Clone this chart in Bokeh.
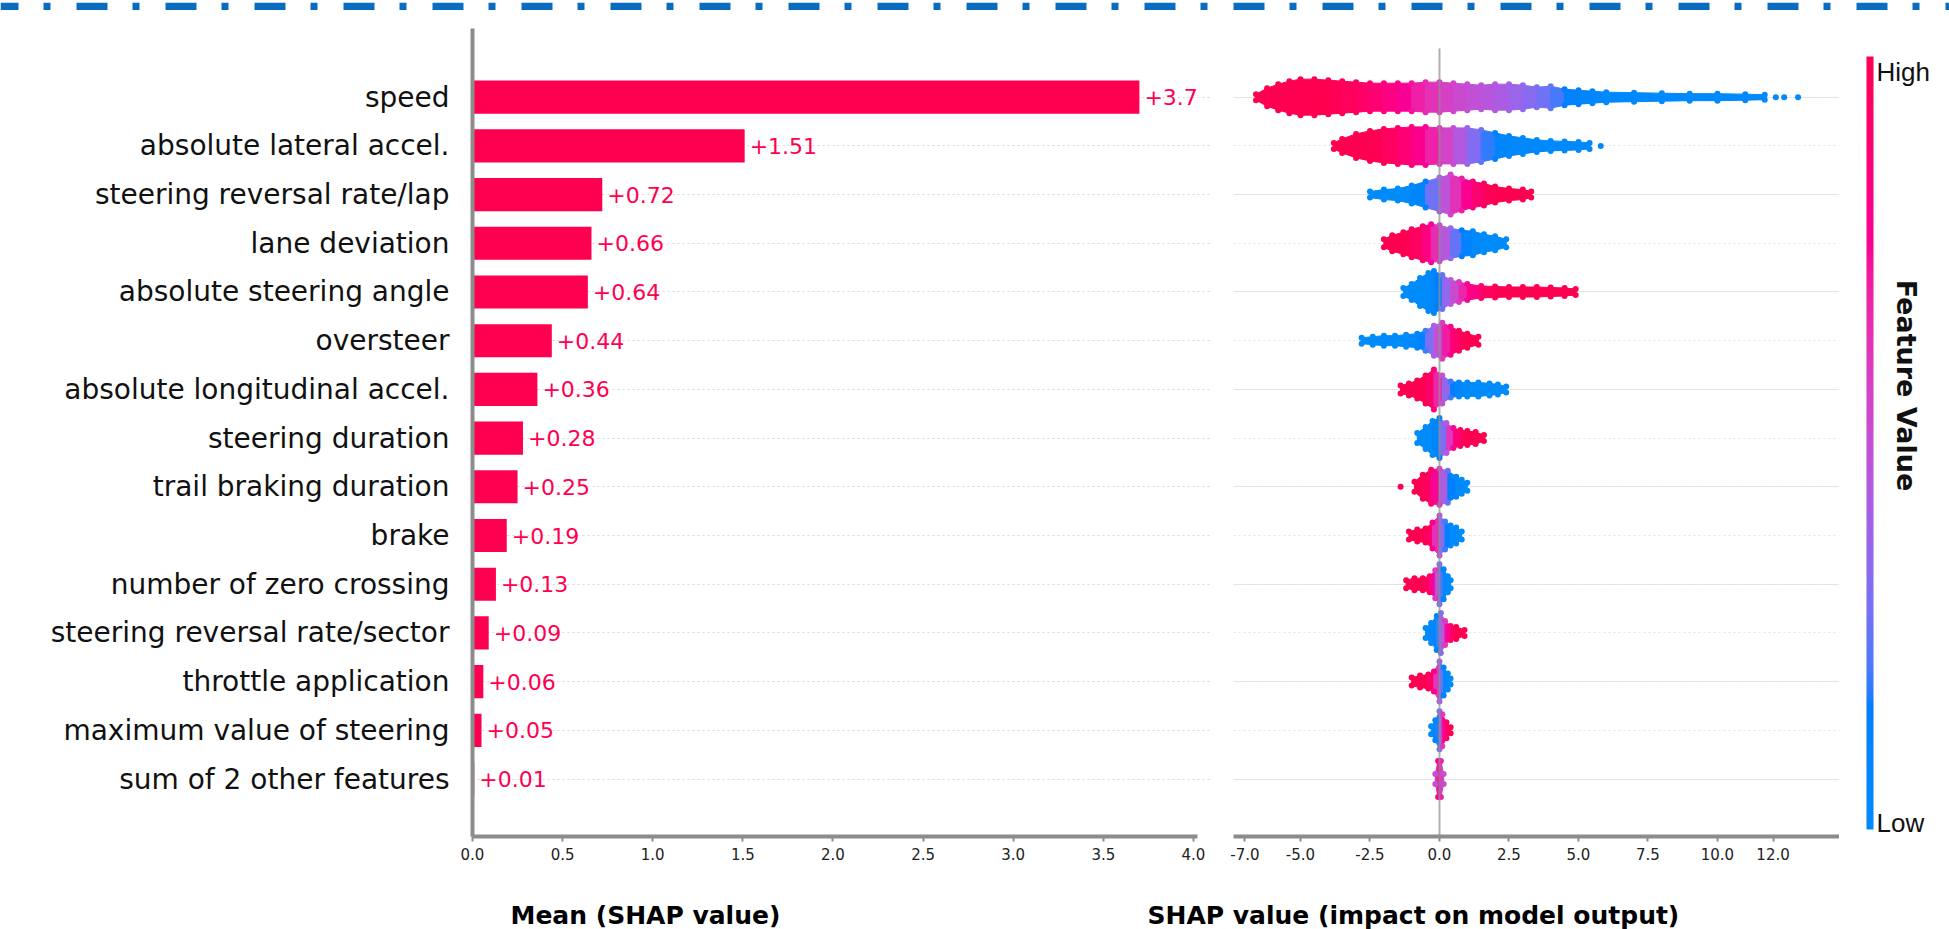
import math
from bokeh.plotting import figure
from bokeh.layouts import column, row
from bokeh.models import (Range1d, FixedTicker, ColumnDataSource, LinearColorMapper,
                          ColorBar, Grid)
from bokeh.core.properties import value
from bokeh.transform import linear_cmap
from bokeh.embed import file_html
from bokeh.resources import INLINE

# ---------------- data ----------------
features = [
    "speed", "absolute lateral accel.", "steering reversal rate/lap", "lane deviation",
    "absolute steering angle", "oversteer", "absolute longitudinal accel.",
    "steering duration", "trail braking duration", "brake", "number of zero crossing",
    "steering reversal rate/sector", "throttle application", "maximum value of steering",
    "sum of 2 other features",
]
mean_shap = [3.7, 1.51, 0.72, 0.66, 0.64, 0.44, 0.36, 0.28, 0.25, 0.19, 0.13, 0.09, 0.06, 0.05, 0.01]
value_labels = ["+3.7", "+1.51", "+0.72", "+0.66", "+0.64", "+0.44", "+0.36", "+0.28",
                "+0.25", "+0.19", "+0.13", "+0.09", "+0.06", "+0.05", "+0.01"]

bar_ticks = [0.0, 0.5, 1.0, 1.5, 2.0, 2.5, 3.0, 3.5, 4.0]
bar_tick_labels = ["0.0", "0.5", "1.0", "1.5", "2.0", "2.5", "3.0", "3.5", "4.0"]
shap_ticks = [-7.0, -5.0, -2.5, 0.0, 2.5, 5.0, 7.5, 10.0, 12.0]
shap_tick_labels = ["-7.0", "-5.0", "-2.5", "0.0", "2.5", "5.0", "7.5", "10.0", "12.0"]

# beeswarm outline per feature: SHAP value, half-thickness of the swarm, feature value (0 low .. 1 high)
swarm_x = [
    [-6.6, -6.2, -5.8, -5.4, -5.0, -4.5, -4.0, -3.5, -3.0, -2.5, -2.0, -1.5, -1.0, -0.5, 0.0, 0.5, 1.0, 1.5,
     2.0, 2.5, 3.0, 3.5, 4.0, 4.5, 5.0, 5.5, 6.0, 7.0, 8.0, 9.0, 10.0, 11.0, 11.7],
    [-3.8, -3.5, -3.0, -2.5, -2.0, -1.5, -1.0, -0.5, 0.0, 0.5, 1.0, 1.5, 2.0, 2.5, 3.0, 3.5, 4.0, 4.5, 5.0, 5.4],
    [-2.5, -2.0, -1.5, -1.0, -0.5, 0.0, 0.4, 0.8, 1.2, 1.6, 2.0, 2.5, 3.0, 3.3],
    [-2.0, -1.7, -1.3, -1.0, -0.6, -0.3, 0.0, 0.4, 0.8, 1.2, 1.6, 2.0, 2.4],
    [-1.3, -1.0, -0.7, -0.4, -0.2, 0.1, 0.4, 0.7, 1.0, 1.5, 2.0, 2.5, 3.0, 3.5, 4.0, 4.5, 4.9],
    [-2.8, -2.4, -2.0, -1.6, -1.2, -0.8, -0.5, -0.2, 0.1, 0.4, 0.7, 1.0, 1.4],
    [-1.4, -1.1, -0.8, -0.5, -0.2, 0.1, 0.4, 0.7, 1.0, 1.4, 1.8, 2.1, 2.4],
    [-0.8, -0.5, -0.25, 0.0, 0.25, 0.5, 0.75, 1.0, 1.3, 1.6],
    [-0.9, -0.6, -0.3, 0.0, 0.3, 0.6, 0.8, 1.0],
    [-1.1, -0.8, -0.5, -0.25, 0.0, 0.2, 0.4, 0.6, 0.8],
    [-1.2, -0.9, -0.6, -0.35, -0.15, 0.0, 0.15, 0.3, 0.4],
    [-0.5, -0.3, -0.1, 0.05, 0.2, 0.4, 0.6, 0.9],
    [-1.0, -0.7, -0.4, -0.2, 0.0, 0.15, 0.3, 0.4],
    [-0.3, -0.15, 0.0, 0.1, 0.25, 0.4],
    [-0.15, -0.05, 0.05, 0.15],
]
swarm_w = [
    [3, 9, 13, 16, 18, 18, 17, 16, 15, 14, 14, 14, 14, 15, 15, 14, 13, 12, 13, 13, 12, 10, 11, 8, 7, 6, 5,
     4.5, 4, 3.5, 3.5, 3, 2.5],
    [3, 7, 12, 15, 17, 18, 19, 19, 18, 18, 18, 16, 13, 10, 8, 6, 5, 4.5, 4, 3],
    [3, 5, 6, 9, 13, 17, 20, 16, 13, 11, 8, 6, 5, 3],
    [4, 8, 11, 14, 17, 19, 18, 15, 13, 12, 9, 7, 4],
    [4, 8, 14, 19, 21, 17, 12, 10, 8, 6, 5.5, 5, 5, 5, 4.5, 4, 3],
    [3, 4, 5, 5, 6, 7, 10, 15, 18, 14, 10, 7, 4],
    [4, 6, 9, 14, 20, 14, 8, 7, 7, 7, 6, 5, 3],
    [5, 11, 17, 20, 15, 10, 8, 7, 6, 3],
    [5, 12, 17, 18, 16, 10, 7, 4],
    [4, 6, 7, 13, 20, 14, 10, 8, 4],
    [4, 6, 6, 8, 14, 20, 15, 8, 4],
    [5, 10, 17, 20, 12, 7, 6, 3],
    [4, 6, 7, 10, 20, 14, 8, 3],
    [4, 10, 19, 16, 8, 3],
    [5, 18, 18, 5],
]
swarm_f = [
    [1, 1, 1, 1, 1, 1, 1, 0.97, 0.95, 0.9, 0.85, 0.8, 0.73, 0.66, 0.6, 0.55, 0.5, 0.47, 0.45, 0.4, 0.35,
     0.3, 0.25, 0.16, 0.1, 0.05, 0.03, 0.02, 0.02, 0.02, 0.02, 0.02, 0.02],
    [1, 1, 1, 1, 0.97, 0.92, 0.85, 0.75, 0.62, 0.5, 0.38, 0.25, 0.12, 0.05, 0.02, 0.02, 0.02, 0.02, 0.02, 0.02],
    [0, 0, 0, 0.02, 0.15, 0.4, 0.55, 0.7, 0.85, 0.95, 1, 1, 1, 1],
    [1, 1, 1, 0.97, 0.9, 0.75, 0.55, 0.35, 0.15, 0.05, 0, 0, 0],
    [0, 0, 0, 0, 0.05, 0.25, 0.45, 0.6, 0.75, 0.9, 1, 1, 1, 1, 1, 1, 1],
    [0, 0, 0, 0, 0, 0.05, 0.2, 0.4, 0.6, 0.8, 0.95, 1, 1],
    [1, 1, 1, 1, 0.85, 0.5, 0.2, 0.05, 0, 0, 0, 0, 0],
    [0, 0, 0, 0.15, 0.45, 0.75, 0.95, 1, 1, 1],
    [1, 1, 0.9, 0.6, 0.25, 0.05, 0, 0],
    [1, 1, 1, 0.8, 0.45, 0.2, 0.05, 0, 0],
    [1, 1, 1, 0.9, 0.6, 0.3, 0.1, 0, 0],
    [0, 0, 0.1, 0.3, 0.6, 0.9, 1, 1],
    [1, 1, 1, 0.8, 0.4, 0.1, 0, 0],
    [0, 0.05, 0.3, 0.6, 0.9, 1],
    [0.5, 0.8, 0.7, 0.5],
]
# isolated points of the swarms
outlier_row = [0, 0, 0, 1, 8]
outlier_x = [12.1, 12.4, 12.9, 5.8, -1.4]
outlier_f = [0.0, 0.0, 0.0, 0.02, 1.0]

# ---------------- styling helpers ----------------
def lch_to_hex(L, C, h):
    a = C * math.cos(h)
    b = C * math.sin(h)
    fy = (L + 16) / 116
    fx = fy + a / 500
    fz = fy - b / 200

    def finv(t):
        return t ** 3 if t ** 3 > 0.008856 else (t - 16 / 116) / 7.787

    X, Y, Z = 0.95047 * finv(fx), finv(fy), 1.08883 * finv(fz)
    r = 3.2406 * X - 1.5372 * Y - 0.4986 * Z
    g = -0.9689 * X + 1.8758 * Y + 0.0415 * Z
    bl = 0.0557 * X - 0.2040 * Y + 1.0570 * Z

    def gam(c):
        c = max(0.0, min(1.0, c))
        return 12.92 * c if c <= 0.0031308 else 1.055 * c ** (1 / 2.4) - 0.055

    return "#%02x%02x%02x" % tuple(int(round(gam(c) * 255)) for c in (r, g, bl))


blue_lch = (54.0, 70.0, 4.6588)
red_lch = (54.0, 90.0, 0.35470565 + 2 * math.pi)
palette = [lch_to_hex(*[blue_lch[j] + (red_lch[j] - blue_lch[j]) * t / 255 for j in range(3)])
           for t in range(256)]

RED = "#ff0051"
AXIS_GREY = "#8c8c8c"
FONT = "DejaVu Sans"
ROW_PX = 48.7
n = len(features)
ROW_Y = [n - 1 - i for i in range(n)]
Y_START, Y_END = -1.18, 15.41
STRIP_H = 10
TOP, BOTTOM, ROW_H = 18, 34, 860
FULL_W = 1949


def bare(fig):
    fig.outline_line_color = None
    fig.grid.visible = False


def style_x_axis(ax, ticks, labels):
    ax.ticker = FixedTicker(ticks=ticks)
    ax.major_label_overrides = {t: l for t, l in zip(ticks, labels)}
    ax.axis_line_color = AXIS_GREY
    ax.axis_line_width = 4
    ax.major_tick_line_color = AXIS_GREY
    ax.major_tick_line_width = 2
    ax.major_tick_out = 5
    ax.major_tick_in = 0
    ax.minor_tick_line_color = None
    ax.major_label_text_font = FONT
    ax.major_label_text_font_size = "15px"
    ax.major_label_text_color = "#222222"
    ax.major_label_standoff = 6


# ---------------- top decorative strip ----------------
strip = figure(width=FULL_W, height=STRIP_H, x_range=Range1d(0, FULL_W), y_range=Range1d(0, 1),
               x_axis_location=None, y_axis_location=None, min_border=0,
               output_backend="svg", toolbar_location=None, tools="")
bare(strip)
strip.line(x=[0, FULL_W], y=[0.5, 0.5], line_width=STRIP_H, line_color="#0a6cc0",
           line_dash="31 25 7 26", line_dash_offset=13)

# ---------------- left: mean |SHAP| bars ----------------
left = figure(width=1211, height=ROW_H, x_range=Range1d(0, 4.1), y_range=Range1d(Y_START, Y_END),
              min_border_left=472, min_border_right=0, min_border_top=TOP, min_border_bottom=BOTTOM,
              output_backend="svg", toolbar_location=None, tools="")
left.outline_line_color = None
left.xgrid.visible = False
left.ygrid.grid_line_color = "#d9d9d9"
left.ygrid.grid_line_dash = "2 3"
left.ygrid.grid_line_width = 1

yax = left.yaxis[0]
yax.ticker = FixedTicker(ticks=ROW_Y)
yax.major_label_overrides = {y: f for y, f in zip(ROW_Y, features)}
yax.axis_line_color = AXIS_GREY
yax.axis_line_width = 4
yax.major_tick_line_color = None
yax.minor_tick_line_color = None
yax.major_label_text_font = FONT
yax.major_label_text_font_size = "28px"
yax.major_label_text_color = "#111111"
yax.major_label_standoff = 17

xax = left.xaxis[0]
style_x_axis(xax, bar_ticks, bar_tick_labels)
xax.bounds = (0, 4.02)

left.hbar(y=ROW_Y, left=0, right=mean_shap, height=0.68, fill_color=RED, line_color=None)
left.text(x=mean_shap, y=ROW_Y, text=value_labels, x_offset=5, text_align="left",
          text_baseline="middle", text_font=value(FONT), text_font_size="22px", text_color=RED)

# ---------------- right: beeswarm ----------------
right = figure(width=628, height=ROW_H, x_range=Range1d(-7.41, 14.39), y_range=Range1d(Y_START, Y_END),
               y_axis_location=None, min_border_left=22, min_border_right=0,
               min_border_top=TOP, min_border_bottom=BOTTOM,
               output_backend="svg", toolbar_location=None, tools="")
right.outline_line_color = None
right.xgrid.visible = False
right.add_layout(Grid(dimension=1, ticker=FixedTicker(ticks=ROW_Y), grid_line_color="#e3e3e3",
                      grid_line_dash="2 3", grid_line_width=1))
style_x_axis(right.xaxis[0], shap_ticks, shap_tick_labels)

pxs, pys, pfs = [], [], []
ex, ey, ef = [], [], []
for r, (xs, ws, fs) in enumerate(zip(swarm_x, swarm_w, swarm_f)):
    yc = ROW_Y[r]
    for k in range(len(xs) - 1):
        h0, h1 = ws[k] / ROW_PX, ws[k + 1] / ROW_PX
        pxs.append([xs[k], xs[k + 1], xs[k + 1], xs[k]])
        pys.append([yc + h0, yc + h1, yc - h1, yc - h0])
        pfs.append((fs[k] + fs[k + 1]) / 2)
    for xk, wk, fk in zip(xs, ws, fs):
        for sgn in (1, -1):
            ex.append(xk)
            ey.append(yc + sgn * wk / ROW_PX)
            ef.append(fk)
swarm_src = ColumnDataSource(dict(xs=pxs, ys=pys, fv=pfs))
cmap = linear_cmap("fv", palette, 0, 1)
right.patches(xs="xs", ys="ys", source=swarm_src, fill_color=cmap, line_color=cmap, line_width=1)

# swarm dots along the outline
edge_src = ColumnDataSource(dict(x=ex, y=ey, fv=ef))
right.scatter(x="x", y="y", source=edge_src, size=6, fill_color=cmap, line_color=None)

out_src = ColumnDataSource(dict(x=outlier_x, y=[ROW_Y[r] for r in outlier_row], fv=outlier_f))
right.scatter(x="x", y="y", source=out_src, size=6, fill_color=cmap, line_color=None)

right.segment(x0=[0], y0=[Y_START], x1=[0], y1=[max(ROW_Y) + 1.0],
              line_color="#8f8f8f", line_width=2, line_alpha=0.7)

# ---------------- colour bar ----------------
CB_W = FULL_W - 1211 - 628
cb_fig = figure(width=CB_W, height=ROW_H, x_range=Range1d(0, CB_W), y_range=Range1d(Y_START, Y_END),
                x_axis_location=None, y_axis_location=None, min_border_left=0, min_border_right=0,
                min_border_top=TOP, min_border_bottom=BOTTOM,
                output_backend="svg", toolbar_location=None, tools="")
bare(cb_fig)
mapper = LinearColorMapper(palette=palette, low=0, high=1)
cbar = ColorBar(color_mapper=mapper, orientation="vertical", width=7, height=773, location=(27, 7),
                padding=0, margin=0, ticker=FixedTicker(ticks=[0.008, 0.98]),
                major_label_overrides={0.008: "Low", 0.98: "High"},
                major_tick_line_color=None, minor_tick_line_color=None, bar_line_color=None,
                label_standoff=3, major_label_text_font="Liberation Sans",
                major_label_text_font_size="26px", major_label_text_color="#111111",
                border_line_color=None, background_fill_alpha=0)
cb_fig.add_layout(cbar)
cb_fig.text(x=[67], y=[8.08], text=["Feature Value"], angle=-math.pi / 2, text_align="center",
            text_baseline="middle", text_font=value(FONT), text_font_style="bold",
            text_font_size="27px", text_color="#111111")

# ---------------- bottom titles ----------------
TITLE_H = 929 - STRIP_H - ROW_H
titles = figure(width=FULL_W, height=TITLE_H, x_range=Range1d(0, FULL_W), y_range=Range1d(0, TITLE_H),
                x_axis_location=None, y_axis_location=None, min_border=0,
                output_backend="svg", toolbar_location=None, tools="")
bare(titles)
titles.text(x=[510, 1147], y=[TITLE_H - 45, TITLE_H - 45],
            text=["Mean (SHAP value)", "SHAP value (impact on model output)"],
            text_align="left", text_baseline="middle", text_font=value(FONT),
            text_font_style="bold", text_font_size="25px", text_color="#000000")

layout = column(strip, row(left, right, cb_fig), titles)
open("out.html", "w").write(file_html(layout, INLINE))
